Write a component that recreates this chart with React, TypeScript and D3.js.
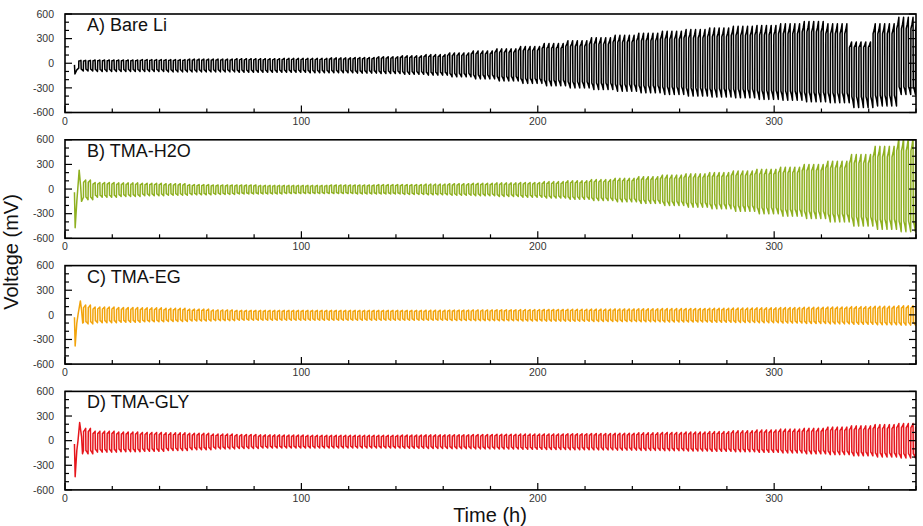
import React from "react";
import * as d3 from "d3";

// time axis (h) and cycling protocol
const TIME_MAX = 360;
const PERIOD = 2; // one strip/plate cycle
const BLOCK = 10; // envelope values below are read per 10 h block

const xTicksMajor = [0, 100, 200, 300];
const yTicksMajor = [600, 300, 0, -300, -600];

// formation transient at the start of each cell (t in h, mV)
const bareLiStart: [number, number][] = [[4, -20], [4.2, -130], [5, -80], [5.8, -60]];
const h2oStart: [number, number][] = [[4, -40], [4.3, -470], [5, -150], [5.4, 0], [6, 230], [6.6, 40], [7, -150], [7.8, -100]];
const egStart: [number, number][] = [[4, -30], [4.3, -380], [5, -100], [5.5, 0], [6.5, 170], [7, 60], [7.5, -100], [7.8, -90]];
const glyStart: [number, number][] = [[4, -40], [4.3, -440], [5, -120], [5.5, 0], [6.2, 220], [7, 50], [7.4, -160], [7.8, -120]];

// peak voltages per 10 h block (mV)
const bareLiUpper = [35, 40, 40, 45, 45, 50, 50, 55, 55, 60, 60, 65, 70, 80, 90, 105, 125, 150, 175, 205, 240, 275, 310, 340, 365, 390, 410, 430, 450, 460, 480, 510, 480, 260, 480, 560];
const bareLiLower = [-95, -100, -100, -100, -105, -105, -105, -110, -110, -110, -115, -115, -120, -125, -135, -145, -165, -190, -215, -245, -275, -300, -320, -340, -360, -380, -400, -410, -420, -440, -450, -470, -480, -540, -520, -380];

const h2oUpper = [110, 80, 75, 70, 65, 55, 50, 50, 45, 45, 45, 50, 50, 55, 55, 60, 65, 70, 75, 80, 90, 100, 115, 130, 150, 170, 185, 200, 220, 240, 265, 300, 340, 420, 520, 620];
const h2oLower = [-130, -100, -90, -80, -75, -70, -65, -60, -60, -55, -55, -55, -60, -60, -65, -70, -75, -80, -90, -100, -110, -125, -140, -155, -175, -200, -220, -240, -270, -300, -330, -360, -400, -450, -490, -520];

const egUpper = [120, 95, 90, 85, 80, 70, 60, 55, 55, 55, 55, 55, 55, 55, 55, 56, 58, 60, 62, 64, 66, 68, 70, 72, 74, 76, 78, 80, 82, 85, 88, 92, 96, 100, 105, 110];
const egLower = [-110, -95, -90, -85, -80, -75, -70, -65, -65, -65, -65, -65, -65, -65, -65, -66, -68, -70, -72, -74, -76, -78, -80, -82, -84, -86, -88, -90, -93, -96, -100, -105, -110, -115, -120, -125];

const glyUpper = [150, 115, 105, 100, 95, 90, 80, 75, 70, 68, 65, 65, 65, 66, 68, 70, 72, 75, 78, 80, 82, 85, 88, 90, 95, 100, 105, 110, 120, 130, 140, 150, 165, 180, 195, 210];
const glyLower = [-160, -140, -135, -130, -120, -110, -100, -95, -90, -90, -88, -88, -88, -90, -92, -95, -97, -100, -102, -105, -107, -110, -112, -115, -118, -122, -126, -130, -135, -142, -150, -160, -170, -185, -200, -212];

const panels = [
  { label: "A) Bare Li", color: "#000000", start: bareLiStart, upper: bareLiUpper, lower: bareLiLower },
  { label: "B) TMA-H2O", color: "#8fb021", start: h2oStart, upper: h2oUpper, lower: h2oLower },
  { label: "C) TMA-EG", color: "#f2a40c", start: egStart, upper: egUpper, lower: egLower },
  { label: "D) TMA-GLY", color: "#e6161c", start: glyStart, upper: glyUpper, lower: glyLower },
];

const width = 923;
const height = 526;
const left = 65;
const right = 916;
const firstTop = 14;
const panelH = 98.5;
const panelStep = 125.8;
const font = "'Liberation Sans', Arial, sans-serif";

function buildTrace(start: [number, number][], upper: number[], lower: number[]) {
  const pts: [number, number][] = start.slice();
  let t0 = start[start.length - 1][0];
  while (t0 < TIME_MAX + PERIOD) {
    const b = Math.min(upper.length - 1, Math.floor(t0 / BLOCK));
    const u = upper[b];
    const l = lower[b];
    pts.push(
      [t0 + 0.05, 0.75 * u],
      [t0 + 0.5, 0.85 * u],
      [t0 + 0.95, u],
      [t0 + 1.05, 0.75 * l],
      [t0 + 1.5, 0.85 * l],
      [t0 + 1.95, l]
    );
    t0 += PERIOD;
  }
  return pts;
}

export default function App() {
  const x = d3.scaleLinear().domain([0, TIME_MAX]).range([left, right]);
  const xMinor = d3.range(0, TIME_MAX + 1, 20);
  const yMinor = d3.range(-600, 601, 100);

  return (
    <svg width={width} height={height} style={{ position: "absolute", left: 0, top: 0, background: "#fff" }}>
      {panels.map((p, i) => {
        const top = firstTop + i * panelStep;
        const bottom = top + panelH;
        const y = d3.scaleLinear().domain([-600, 600]).range([bottom, top]);
        const line = d3
          .line<[number, number]>()
          .x((d) => x(d[0]))
          .y((d) => y(d[1]));
        const trace = buildTrace(p.start, p.upper, p.lower);
        const clipId = `clip-${i}`;
        return (
          <g key={p.label}>
            <clipPath id={clipId}>
              <rect x={left} y={top} width={right - left} height={bottom - top} />
            </clipPath>
            <path
              d={line(trace) || ""}
              fill="none"
              stroke={p.color}
              strokeWidth={1.5}
              strokeLinejoin="round"
              clipPath={`url(#${clipId})`}
            />
            {/* y ticks left and right */}
            {yMinor.map((v) => {
              const len = v % 300 === 0 ? 7 : 4;
              return (
                <g key={"y" + v} stroke="#000" strokeWidth={1.2}>
                  <line x1={left} x2={left + len} y1={y(v)} y2={y(v)} />
                  <line x1={right} x2={right - len} y1={y(v)} y2={y(v)} />
                </g>
              );
            })}
            {/* x ticks */}
            {xMinor.map((t) => {
              const len = t % 100 === 0 ? 7 : 4;
              return (
                <line key={"x" + t} x1={x(t)} x2={x(t)} y1={bottom} y2={bottom - len} stroke="#000" strokeWidth={1.2} />
              );
            })}
            <rect x={left} y={top} width={right - left} height={bottom - top} fill="none" stroke="#000" strokeWidth={1.6} />
            {yTicksMajor.map((v) => (
              <text
                key={"yl" + v}
                x={54}
                y={y(v)}
                dy="0.35em"
                textAnchor="end"
                fontSize={10.5}
                fontFamily={font}
                fill="#333"
              >
                {v}
              </text>
            ))}
            {xTicksMajor.map((t) => (
              <text
                key={"xl" + t}
                x={x(t)}
                y={bottom + 12}
                textAnchor="middle"
                fontSize={10.5}
                fontFamily={font}
                fill="#333"
              >
                {t}
              </text>
            ))}
            <text x={87} y={top + 17} fontSize={18} fontFamily={font} fill="#111">
              {p.label}
            </text>
          </g>
        );
      })}
      <text
        transform="translate(18,252) rotate(-90)"
        textAnchor="middle"
        fontSize={20}
        fontFamily={font}
        fill="#111"
      >
        Voltage (mV)
      </text>
      <text x={490} y={522} textAnchor="middle" fontSize={20} fontFamily={font} fill="#111">
        Time (h)
      </text>
    </svg>
  );
}
